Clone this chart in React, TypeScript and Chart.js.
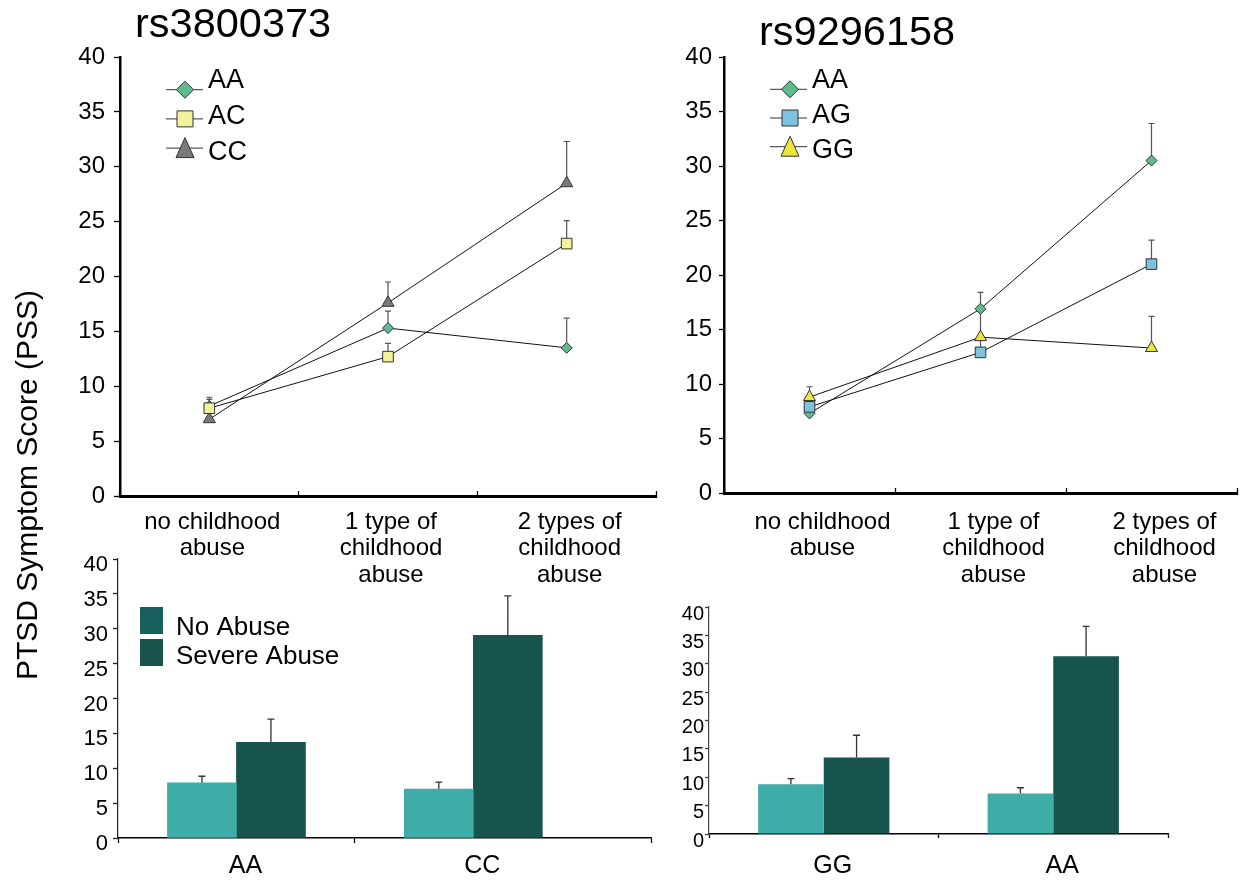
import React, { useEffect, useRef } from 'react';
import { Chart, registerables } from 'chart.js';

Chart.register(...registerables);

const FONT = "'Liberation Sans', Arial, Helvetica, sans-serif";

// ---------- data ----------
const abuseLevels = [
  ['no childhood', 'abuse'],
  ['1 type of', 'childhood', 'abuse'],
  ['2 types of', 'childhood', 'abuse'],
];

// rs3800373 line chart
const rs38Title = 'rs3800373';
const rs38Genotypes = ['AA', 'AC', 'CC'];
const rs38AA = [8.2, 15.3, 13.5];
const rs38AAErr = [0.6, 1.55, 2.7];
const rs38AC = [8.0, 12.7, 23.0];
const rs38ACErr = [1.0, 1.2, 2.1];
const rs38CC = [7.0, 17.6, 28.5];
const rs38CCErr = [0.8, 1.9, 3.8];

// rs9296158 line chart
const rs92Title = 'rs9296158';
const rs92Genotypes = ['AA', 'AG', 'GG'];
const rs92AA = [7.3, 16.9, 30.5];
const rs92AAErr = [0.4, 1.5, 3.4];
const rs92AG = [7.9, 12.9, 21.0];
const rs92AGErr = [0.5, 1.3, 2.2];
const rs92GG = [8.8, 14.3, 13.3];
const rs92GGErr = [0.95, 2.4, 2.9];

// bar charts
const barSeries = ['No Abuse', 'Severe Abuse'];
const rs38BarGenotypes = ['AA', 'CC'];
const rs38NoAbuse = [7.9, 7.0];
const rs38NoAbuseErr = [0.95, 1.0];
const rs38Severe = [13.7, 29.05];
const rs38SevereErr = [3.35, 5.65];

const rs92BarGenotypes = ['GG', 'AA'];
const rs92NoAbuse = [8.75, 7.15];
const rs92NoAbuseErr = [1.0, 1.0];
const rs92Severe = [13.5, 31.3];
const rs92SevereErr = [3.9, 5.3];

const yTitle = 'PTSD Symptom Score (PSS)';

// ---------- colors ----------
const C_AA = '#5EBB8C';
const C_AC = '#F2F29A';
const C_CC = '#7A7A7A';
const C_AG = '#7EC2DD';
const C_GG = '#E6E63B';
const C_NO = '#3EADA7';
const C_SEV = '#17544E';
const LEG_NO = '#175E5C';
const LEG_SEV = '#18534C';

// ---------- plugins ----------
const errorBarPlugin = {
  id: 'errorBars',
  beforeDatasetsDraw(chart: any, _args: any, opts: any) {
    const { ctx } = chart;
    const yScale = chart.scales.y;
    chart.data.datasets.forEach((ds: any, di: number) => {
      const errs = ds.errors;
      if (!errs) return;
      const meta = chart.getDatasetMeta(di);
      meta.data.forEach((el: any, i: number) => {
        const raw = ds.data[i];
        const v = typeof raw === 'number' ? raw : raw.y;
        const x = el.x;
        const y0 = yScale.getPixelForValue(v);
        const y1 = yScale.getPixelForValue(v + errs[i]);
        ctx.save();
        ctx.strokeStyle = opts.color || '#444';
        ctx.lineWidth = opts.width || 1.2;
        ctx.beginPath();
        ctx.moveTo(x, y0);
        ctx.lineTo(x, y1);
        ctx.moveTo(x - (opts.cap || 3), y1);
        ctx.lineTo(x + (opts.cap || 3), y1);
        ctx.stroke();
        ctx.restore();
      });
    });
  },
};

function drawMarker(ctx: any, style: string, x: number, y: number, size: number, fill: string, stroke: string) {
  ctx.beginPath();
  if (style === 'rectRot') {
    ctx.moveTo(x, y - size);
    ctx.lineTo(x + size, y);
    ctx.lineTo(x, y + size);
    ctx.lineTo(x - size, y);
    ctx.closePath();
  } else if (style === 'rect') {
    ctx.rect(x - size, y - size, 2 * size, 2 * size);
  } else {
    ctx.moveTo(x, y - size * 1.05);
    ctx.lineTo(x + size * 0.9, y + size * 0.95);
    ctx.lineTo(x - size * 0.9, y + size * 0.95);
    ctx.closePath();
  }
  ctx.fillStyle = fill;
  ctx.fill();
  ctx.strokeStyle = stroke;
  ctx.lineWidth = 1;
  ctx.stroke();
}

const markerLegendPlugin = {
  id: 'markerLegend',
  afterDraw(chart: any, _args: any, o: any) {
    const { ctx } = chart;
    const sizes: any = { rectRot: 8.5, rect: 8, triangle: 10 };
    chart.data.datasets.forEach((ds: any, i: number) => {
      const my = o.markerY + i * o.markerStep;
      const ty = o.textY + i * o.textStep;
      ctx.save();
      ctx.strokeStyle = '#333';
      ctx.lineWidth = 1;
      ctx.beginPath();
      ctx.moveTo(o.lineX0, my);
      ctx.lineTo(o.lineX1, my);
      ctx.stroke();
      drawMarker(ctx, ds.pointStyle, o.markerX, my, sizes[ds.pointStyle], ds.pointBackgroundColor, '#333');
      ctx.fillStyle = '#000';
      ctx.font = `${o.fontSize}px ${FONT}`;
      ctx.textAlign = 'left';
      ctx.textBaseline = 'middle';
      ctx.fillText(ds.label, o.textX, ty);
      ctx.restore();
    });
  },
};

const boxLegendPlugin = {
  id: 'boxLegend',
  afterDraw(chart: any, _args: any, o: any) {
    if (!o.items) return;
    const { ctx } = chart;
    o.items.forEach((it: any, i: number) => {
      ctx.save();
      ctx.fillStyle = it.color;
      ctx.fillRect(o.boxX, o.boxY + i * o.boxStep, o.boxW, o.boxH);
      ctx.fillStyle = '#000';
      ctx.font = `${o.fontSize}px ${FONT}`;
      ctx.textAlign = 'left';
      ctx.textBaseline = 'middle';
      ctx.fillText(it.text, o.textX, o.textY + i * o.textStep);
      ctx.restore();
    });
  },
};

const textPlugin = {
  id: 'texts',
  afterDraw(chart: any, _args: any, o: any) {
    if (!o.items) return;
    const { ctx } = chart;
    o.items.forEach((t: any) => {
      ctx.save();
      ctx.translate(t.x, t.y);
      if (t.rotate) ctx.rotate(t.rotate);
      ctx.fillStyle = '#000';
      ctx.font = `${t.size}px ${FONT}`;
      ctx.textAlign = t.align || 'left';
      ctx.textBaseline = 'alphabetic';
      ctx.fillText(t.text, 0, 0);
      ctx.restore();
    });
  },
};

// ---------- helpers ----------
function yAxis(o: any) {
  return {
    min: 0,
    max: 40,
    ticks: {
      stepSize: 5,
      color: '#000',
      font: { size: o.fontSize, family: FONT },
      padding: o.pad,
      labelOffset: o.labelOffset || 0,
    },
    grid: {
      display: true,
      drawOnChartArea: false,
      drawTicks: true,
      tickLength: o.tickLen,
      tickColor: o.color,
      tickWidth: 1.3,
    },
    border: { display: true, color: o.color, width: o.borderWidth },
    afterFit: (s: any) => {
      s.width = o.width;
    },
  };
}

function lineDataset(label: string, data: number[], errors: number[], style: string, color: string, radius: number, order: number) {
  return {
    label,
    data,
    errors,
    order,
    borderColor: '#111',
    borderWidth: 1,
    pointStyle: style,
    pointRadius: radius,
    pointBackgroundColor: color,
    pointBorderColor: '#333',
    pointBorderWidth: 1,
    fill: false,
    tension: 0,
  };
}

function lineConfig(p: any) {
  return {
    type: 'line',
    data: {
      labels: abuseLevels,
      datasets: p.datasets,
    },
    options: {
      responsive: false,
      animation: false,
      layout: { padding: p.padding },
      plugins: {
        legend: { display: false },
        tooltip: { enabled: false },
        errorBars: { color: '#555', width: 1.2, cap: 3 },
        markerLegend: p.legend,
        texts: { items: p.texts },
      },
      scales: {
        x: {
          type: 'category',
          offset: true,
          ticks: {
            color: '#000',
            font: { size: 24, family: FONT, lineHeight: 1.1 },
            padding: p.xPad,
            labelOffset: p.xLabelOffset,
            maxRotation: 0,
            minRotation: 0,
            autoSkip: false,
          },
          grid: {
            display: true,
            offset: true,
            drawOnChartArea: false,
            drawTicks: true,
            tickLength: -5,
            tickColor: '#000',
            tickWidth: 1.3,
          },
          border: { display: true, color: '#000', width: 3 },
          afterFit: (s: any) => {
            s.height = 100;
          },
        },
        y: yAxis(p.y),
      },
    },
    plugins: [errorBarPlugin, markerLegendPlugin, textPlugin],
  };
}

function configA() {
  return lineConfig({
    datasets: [
      lineDataset(rs38Genotypes[0], rs38AA, rs38AAErr, 'rectRot', C_AA, 5.5, 3),
      lineDataset(rs38Genotypes[1], rs38AC, rs38ACErr, 'rect', C_AC, 7.5, 1),
      lineDataset(rs38Genotypes[2], rs38CC, rs38CCErr, 'triangle', C_CC, 7, 2),
    ],
    padding: { left: 0, top: 57, right: 1248 - 656, bottom: 885 - 496 - 100 },
    xPad: 18,
    xLabelOffset: 3,
    y: { width: 120, fontSize: 24, pad: 9, tickLen: 6, color: '#000', borderWidth: 2.5 },
    legend: {
      lineX0: 166, lineX1: 203, markerX: 185, textX: 208,
      markerY: 89.7, markerStep: 29.2, textY: 81, textStep: 35.7, fontSize: 27,
    },
    texts: [{ text: rs38Title, x: 135, y: 36.7, size: 41.5 }],
  });
}

function configB() {
  return lineConfig({
    datasets: [
      lineDataset(rs92Genotypes[0], rs92AA, rs92AAErr, 'rectRot', C_AA, 5.5, 3),
      lineDataset(rs92Genotypes[1], rs92AG, rs92AGErr, 'rect', C_AG, 7.5, 2),
      lineDataset(rs92Genotypes[2], rs92GG, rs92GGErr, 'triangle', C_GG, 7, 1),
    ],
    padding: { left: 624, top: 57, right: 1248 - 1237, bottom: 885 - 493 - 100 },
    xPad: 21,
    xLabelOffset: 13,
    y: { width: 100, fontSize: 24, pad: 7, tickLen: 5, color: '#000', borderWidth: 2.5 },
    legend: {
      lineX0: 770, lineX1: 807, markerX: 790, textX: 812,
      markerY: 89.3, markerStep: 28.7, textY: 81, textStep: 35, fontSize: 27,
    },
    texts: [{ text: rs92Title, x: 759, y: 45, size: 41.5 }],
  });
}

function configC() {
  return {
    type: 'bar',
    data: {
      datasets: [
        {
          label: barSeries[0],
          data: rs38NoAbuse.map((v, i) => ({ x: i + 0.5, y: v })),
          errors: rs38NoAbuseErr,
          backgroundColor: C_NO,
          barThickness: 69,
        },
        {
          label: barSeries[1],
          data: rs38Severe.map((v, i) => ({ x: i + 0.5, y: v })),
          errors: rs38SevereErr,
          backgroundColor: C_SEV,
          barThickness: 69,
        },
      ],
    },
    options: {
      responsive: false,
      animation: false,
      layout: { padding: { left: 0, top: 559, right: 1248 - 651, bottom: 885 - 838 - 40 } },
      plugins: {
        legend: { display: false },
        tooltip: { enabled: false },
        errorBars: { color: '#333', width: 1.3, cap: 3.5 },
        boxLegend: {
          items: [
            { text: barSeries[0], color: LEG_NO },
            { text: barSeries[1], color: LEG_SEV },
          ],
          boxX: 140, boxY: 607, boxW: 23, boxH: 27, boxStep: 32,
          textX: 176, textY: 628, textStep: 28.7, fontSize: 26,
        },
        texts: {
          items: [{ text: yTitle, x: 37, y: 485, size: 30, align: 'center', rotate: -Math.PI / 2 }],
        },
      },
      scales: {
        x: {
          type: 'linear',
          offset: false,
          min: 0,
          max: rs38BarGenotypes.length + 0.25,
          afterBuildTicks: (s: any) => {
            const vals = [0];
            rs38BarGenotypes.forEach((_g, i) => {
              vals.push(i + 0.5);
              if (i < rs38BarGenotypes.length - 1) vals.push(i + 1);
            });
            vals.push(rs38BarGenotypes.length + 0.25);
            s.ticks = vals.map((v) => ({ value: v }));
          },
          ticks: {
            color: '#000',
            font: { size: 25, family: FONT },
            padding: 8,
            labelOffset: 9,
            maxRotation: 0,
            autoSkip: false,
            callback: (v: number) => {
              const idx = v - 0.5;
              return Number.isInteger(idx) && rs38BarGenotypes[idx] ? rs38BarGenotypes[idx] : '';
            },
          },
          grid: {
            display: true,
            offset: false,
            drawOnChartArea: false,
            drawTicks: true,
            tickLength: 5,
            tickWidth: 1.3,
            tickColor: (c: any) => {
              const v = c.tick ? c.tick.value : 0;
              return Number.isInteger(v - 0.5) ? 'rgba(0,0,0,0)' : '#000';
            },
          },
          border: { display: true, color: '#000', width: 1.5 },
          afterFit: (s: any) => {
            s.height = 40;
          },
        },
        y: yAxis({ width: 118, fontSize: 22, pad: 5, tickLen: 5, color: '#222', borderWidth: 1.2, labelOffset: 6 }),
      },
    },
    plugins: [errorBarPlugin, boxLegendPlugin, textPlugin],
  };
}

function configD() {
  return {
    type: 'bar',
    data: {
      labels: rs92BarGenotypes,
      datasets: [
        { label: barSeries[0], data: rs92NoAbuse, errors: rs92NoAbuseErr, backgroundColor: C_NO },
        { label: barSeries[1], data: rs92Severe, errors: rs92SevereErr, backgroundColor: C_SEV },
      ],
    },
    options: {
      responsive: false,
      animation: false,
      categoryPercentage: 0.572,
      barPercentage: 1,
      layout: { padding: { left: 609, top: 607, right: 1248 - 1168, bottom: 885 - 834 - 40 } },
      plugins: {
        legend: { display: false },
        tooltip: { enabled: false },
        errorBars: { color: '#333', width: 1.3, cap: 3.5 },
      },
      scales: {
        x: {
          type: 'category',
          offset: true,
          ticks: {
            color: '#000',
            font: { size: 25, family: FONT },
            padding: 13,
            labelOffset: 9,
            maxRotation: 0,
            autoSkip: false,
          },
          grid: {
            display: true,
            offset: true,
            drawOnChartArea: false,
            drawTicks: true,
            tickLength: 4,
            tickWidth: 1.3,
            tickColor: '#000',
          },
          border: { display: true, color: '#000', width: 1.5 },
          afterFit: (s: any) => {
            s.height = 40;
          },
        },
        y: yAxis({ width: 100, fontSize: 20, pad: 1, tickLen: 4, color: '#444', borderWidth: 1.2, labelOffset: 7 }),
      },
    },
    plugins: [errorBarPlugin],
  };
}

function ChartCanvas({ make }: { make: () => any }) {
  const ref = useRef<HTMLCanvasElement | null>(null);
  useEffect(() => {
    if (!ref.current) return;
    const chart = new Chart(ref.current, make());
    return () => chart.destroy();
  }, [make]);
  return (
    <canvas
      ref={ref}
      width={1248}
      height={885}
      style={{ position: 'absolute', left: 0, top: 0, width: 1248, height: 885 }}
    />
  );
}

export default function App() {
  return (
    <div
      style={{
        position: 'absolute',
        left: 0,
        top: 0,
        width: 1248,
        height: 885,
        background: '#fff',
        overflow: 'hidden',
      }}
    >
      <ChartCanvas make={configA} />
      <ChartCanvas make={configB} />
      <ChartCanvas make={configC} />
      <ChartCanvas make={configD} />
    </div>
  );
}
